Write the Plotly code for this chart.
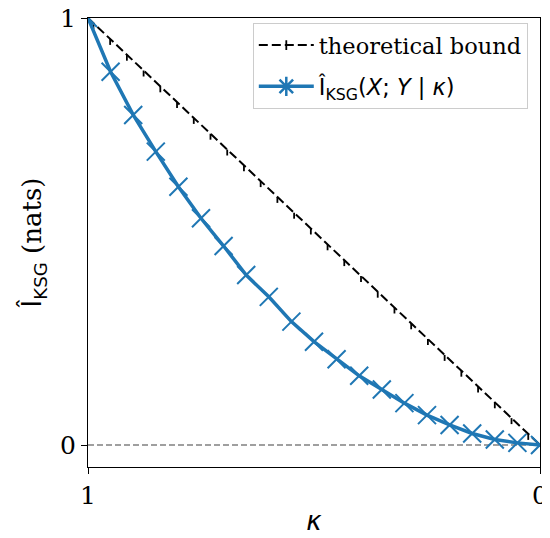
import plotly.graph_objects as go

# Estimate I_KSG(X;Y|kappa) at kappa = 1.00, 0.95, ..., 0.00
kappa = [1.00, 0.95, 0.90, 0.85, 0.80, 0.75, 0.70, 0.65, 0.60, 0.55, 0.50,
         0.45, 0.40, 0.35, 0.30, 0.25, 0.20, 0.15, 0.10, 0.05, 0.00]
i_ksg = [1.000, 0.874, 0.773, 0.687, 0.605, 0.531, 0.466, 0.398, 0.347, 0.289, 0.242,
         0.201, 0.162, 0.130, 0.098, 0.070, 0.047, 0.027, 0.013, 0.005, 0.000]

# Theoretical bound (linear in kappa)
bound_kappa = [1.000, 0.988, 0.951, 0.914, 0.877, 0.840, 0.803, 0.766, 0.729, 0.692,
               0.655, 0.618, 0.581, 0.544, 0.507, 0.470, 0.433, 0.396, 0.359, 0.322,
               0.285, 0.248, 0.211, 0.174, 0.137, 0.100, 0.063, 0.026, 0.000]
bound_val = [1.000, 0.988, 0.951, 0.914, 0.877, 0.840, 0.803, 0.766, 0.729, 0.692,
             0.655, 0.618, 0.581, 0.544, 0.507, 0.470, 0.433, 0.396, 0.359, 0.322,
             0.285, 0.248, 0.211, 0.174, 0.137, 0.100, 0.063, 0.026, 0.000]

x_ticks = [1, 0]
y_ticks = [0, 1]

BLUE = "#1f77b4"
SERIF = "DejaVu Serif"
SANS = "DejaVu Sans"

tick_len = 0.014
tick_minus = [0.0] + [tick_len] * (len(bound_kappa) - 2) + [0.0]

fig = go.Figure()

# zero reference line
fig.add_trace(go.Scatter(
    x=[x_ticks[0], x_ticks[1]], y=[0, 0], mode="lines",
    line=dict(color="#808080", width=1.4, dash="6px,3px"),
    showlegend=False, hoverinfo="skip"))

# theoretical bound with downward ticks
fig.add_trace(go.Scatter(
    x=bound_kappa, y=bound_val, mode="lines",
    line=dict(color="black", width=2, dash="9px,4px"),
    error_y=dict(type="data", symmetric=False, array=[0.0] * len(bound_kappa),
                 arrayminus=tick_minus, width=0, thickness=1.8, color="black"),
    showlegend=False))

# KSG estimate
fig.add_trace(go.Scatter(
    x=kappa, y=i_ksg, mode="lines+markers",
    line=dict(color=BLUE, width=3.5),
    marker=dict(symbol="x-thin-open", size=18, color=BLUE,
                line=dict(color=BLUE, width=2)),
    showlegend=False))

# legend entries
fig.add_trace(go.Scatter(
    x=[None], y=[None], mode="lines+markers", name="theoretical bound",
    legendgroup="a",
    line=dict(color="black", width=2, dash="9px,4px"),
    marker=dict(symbol="line-ns-open", size=7, color="black",
                line=dict(color="black", width=1.8))))
fig.add_trace(go.Scatter(
    x=[None], y=[None], mode="lines+markers", legendgroup="b",
    name=f'<span style="font-family:{SANS}">Î<sub>KSG</sub>(<i>X</i>; <i>Y</i> | <i>κ</i>)</span>',
    line=dict(color=BLUE, width=3.5),
    marker=dict(symbol="asterisk-open", size=18, color=BLUE,
                line=dict(color=BLUE, width=2.5))))

axis_common = dict(
    showline=True, linecolor="black", linewidth=1.3, mirror=True,
    ticks="outside", ticklen=6, tickwidth=1.3, tickcolor="black",
    showgrid=False, zeroline=False, automargin=False,
    ticklabeloverflow="allow",
    tickfont=dict(family=SERIF, size=25, color="black"),
)

# page body has an 8px margin, so the figure is 8px smaller and offset
fig.update_layout(
    width=542, height=530,
    margin=dict(l=80, r=10, t=10, b=71),
    paper_bgcolor="white", plot_bgcolor="white",
    font=dict(family=SERIF, color="black"),
    xaxis=dict(range=[1, 0], tickvals=x_ticks, ticktext=["1", "0"],
               title=dict(text=f'<span style="font-family:{SANS}"><i>κ</i></span>',
                          font=dict(size=26, family=SANS), standoff=2),
               **axis_common),
    yaxis=dict(range=[-0.0515, 1.0], tickvals=y_ticks, ticktext=["0", "1"],
               title=dict(text=f'<span style="font-family:{SANS}">Î<sub>KSG</sub></span> (nats)',
                          font=dict(size=26, family=SERIF), standoff=10),
               **axis_common),
    legend=dict(x=0.973, y=0.989, xanchor="right", yanchor="top",
                bgcolor="rgba(255,255,255,0.85)", bordercolor="#cccccc", borderwidth=1,
                font=dict(family=SERIF, size=22.5, color="black"),
                tracegroupgap=9, itemwidth=55),
    showlegend=True,
)

fig.write_html("out.html")
